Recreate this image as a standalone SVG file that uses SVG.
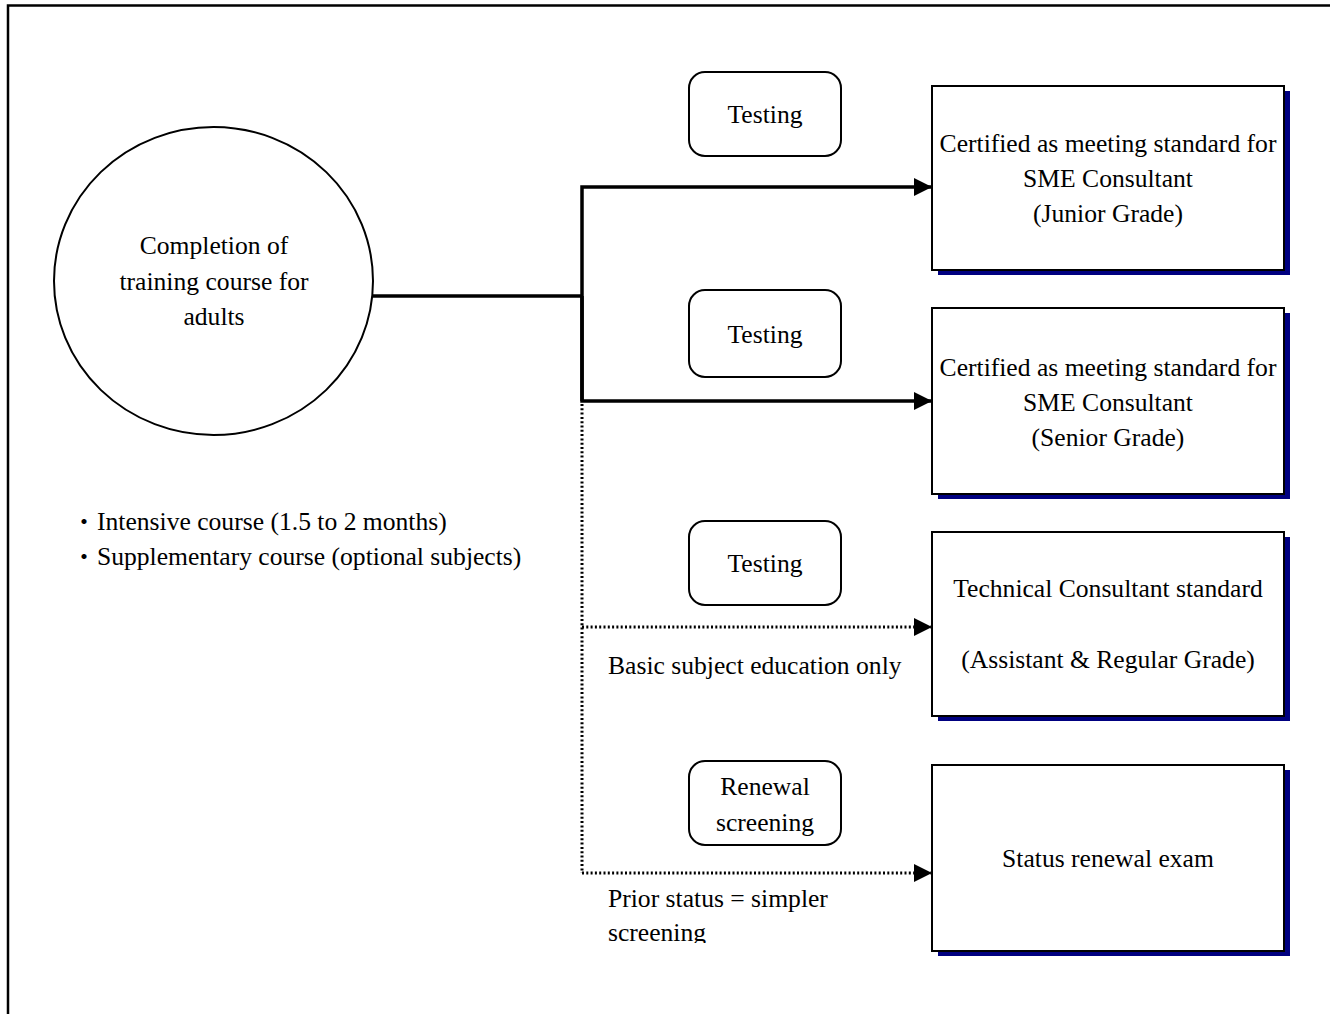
<svg xmlns="http://www.w3.org/2000/svg" width="1330" height="1014" viewBox="0 0 1330 1014">
  <style>
    text { font-family: "Liberation Serif", "Noto Sans CJK JP", serif; font-size: 25.6px; fill: #000; }
    .c { text-anchor: middle; }
    .dot { font-family: "Noto Sans CJK JP", sans-serif; font-size: 24px; }
    .frame { fill: none; stroke: #000; stroke-width: 2.5; }
    .box { fill: #fff; stroke: #000; stroke-width: 2; }
    .shadow { fill: #000080; }
    .step { fill: #fff; stroke: #000; stroke-width: 2; }
    .solid { fill: none; stroke: #000; stroke-width: 3.5; }
    .dotted { fill: none; stroke: #000; stroke-width: 3; stroke-dasharray: 2 2.3; }
  </style>
  <defs>
    <marker id="arrow" markerUnits="userSpaceOnUse" markerWidth="18" markerHeight="20" refX="18" refY="10" orient="auto">
      <path d="M0,1 L18,10 L0,19 Z" fill="#000"/>
    </marker>
    <clipPath id="pageClip">
      <rect x="0" y="0" width="1330" height="943"/>
    </clipPath>
  </defs>

  <rect width="1330" height="1014" fill="#fff"/>

  <!-- page frame, open to the right and bottom -->
  <path class="frame" d="M8,1016 L8,5.5 L1332,5.5"/>

  <!-- connectors -->
  <g id="connectors">
    <path class="solid" d="M373,296 L582,296"/>
    <path class="solid" d="M582,401 L582,187 L932,187" marker-end="url(#arrow)"/>
    <path class="solid" d="M582,296 L582,401 L932,401" marker-end="url(#arrow)"/>
    <path class="dotted" d="M582,404 L582,873"/>
    <path class="dotted" d="M582,627 L932,627" marker-end="url(#arrow)"/>
    <path class="dotted" d="M582,873 L932,873" marker-end="url(#arrow)"/>
  </g>

  <!-- start: training course -->
  <g id="start">
    <ellipse cx="213.5" cy="281" rx="159.5" ry="154" fill="#fff" stroke="#000" stroke-width="2"/>
    <text class="c" x="214" y="254">Completion of</text>
    <text class="c" x="214" y="290">training course for</text>
    <text class="c" x="214" y="325">adults</text>
  </g>

  <g id="course-notes">
    <text class="dot" x="72" y="530">・</text>
    <text x="97" y="530">Intensive course (1.5 to 2 months)</text>
    <text class="dot" x="72" y="565">・</text>
    <text x="97" y="565">Supplementary course (optional subjects)</text>
  </g>

  <!-- step labels -->
  <g id="testing-1">
    <rect class="step" x="689" y="72" width="152" height="84" rx="16"/>
    <text class="c" x="765" y="123">Testing</text>
  </g>
  <g id="testing-2">
    <rect class="step" x="689" y="290" width="152" height="87" rx="16"/>
    <text class="c" x="765" y="343">Testing</text>
  </g>
  <g id="testing-3">
    <rect class="step" x="689" y="521" width="152" height="84" rx="16"/>
    <text class="c" x="765" y="572">Testing</text>
  </g>
  <g id="renewal-screening">
    <rect class="step" x="689" y="761" width="152" height="84" rx="16"/>
    <text class="c" x="765" y="795">Renewal</text>
    <text class="c" x="765" y="831">screening</text>
  </g>

  <g id="path-notes">
    <text x="608" y="674">Basic subject education only</text>
    <g clip-path="url(#pageClip)">
      <text x="608" y="907">Prior status = simpler</text>
      <text x="608" y="941">screening</text>
    </g>
  </g>

  <!-- outcome boxes -->
  <g id="junior-grade">
    <rect class="shadow" x="938" y="91" width="352" height="184"/>
    <rect class="box" x="932" y="86" width="352" height="184"/>
    <text class="c" x="1108" y="152">Certified as meeting standard for</text>
    <text class="c" x="1108" y="187">SME Consultant</text>
    <text class="c" x="1108" y="222">(Junior Grade)</text>
  </g>
  <g id="senior-grade">
    <rect class="shadow" x="938" y="313" width="352" height="186"/>
    <rect class="box" x="932" y="308" width="352" height="186"/>
    <text class="c" x="1108" y="376">Certified as meeting standard for</text>
    <text class="c" x="1108" y="411">SME Consultant</text>
    <text class="c" x="1108" y="446">(Senior Grade)</text>
  </g>
  <g id="technical-consultant">
    <rect class="shadow" x="938" y="537" width="352" height="184"/>
    <rect class="box" x="932" y="532" width="352" height="184"/>
    <text class="c" x="1108" y="597">Technical Consultant standard</text>
    <text class="c" x="1108" y="668">(Assistant &amp; Regular Grade)</text>
  </g>
  <g id="status-renewal">
    <rect class="shadow" x="938" y="770" width="352" height="186"/>
    <rect class="box" x="932" y="765" width="352" height="186"/>
    <text class="c" x="1108" y="867">Status renewal exam</text>
  </g>
</svg>
